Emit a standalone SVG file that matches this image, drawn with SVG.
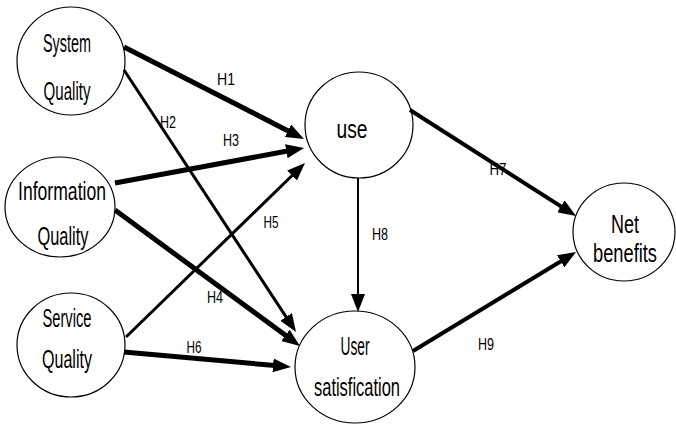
<svg xmlns="http://www.w3.org/2000/svg" width="676" height="425" viewBox="0 0 676 425">
<style>
.node ellipse{fill:#fff;stroke:#000;stroke-width:1.2}
.nt{font-family:"Liberation Sans",Arial,sans-serif;font-size:26px;fill:#000;text-anchor:middle}
.lb{font-family:"Liberation Sans",Arial,sans-serif;font-size:17px;fill:#000;text-anchor:middle}
.c{fill:none;stroke:#000;stroke-linecap:butt}
</style>
<defs>
<marker id="ah" markerUnits="userSpaceOnUse" markerWidth="18" markerHeight="14" refX="8" refY="7" orient="auto">
<path d="M0,0 L18,7 L0,14 z" fill="#000"/>
</marker>
</defs>
<rect width="676" height="425" fill="#fff"/>
<g id="nodes">
<g id="system-quality" class="node">
<ellipse cx="71" cy="61" rx="54" ry="54"/>
<text class="nt" x="67" y="52" textLength="48" lengthAdjust="spacingAndGlyphs">System</text>
<text class="nt" x="67" y="100" textLength="47" lengthAdjust="spacingAndGlyphs">Quality</text>
</g>
<g id="information-quality" class="node">
<ellipse cx="60" cy="207" rx="55" ry="50"/>
<text class="nt" x="62" y="200" textLength="88" lengthAdjust="spacingAndGlyphs">Information</text>
<text class="nt" x="63" y="245" textLength="51" lengthAdjust="spacingAndGlyphs">Quality</text>
</g>
<g id="service-quality" class="node">
<ellipse cx="71" cy="345" rx="54" ry="52"/>
<text class="nt" x="67" y="327" textLength="49" lengthAdjust="spacingAndGlyphs">Service</text>
<text class="nt" x="67" y="368" textLength="50" lengthAdjust="spacingAndGlyphs">Quality</text>
</g>
<g id="use" class="node">
<ellipse cx="359" cy="125" rx="54" ry="53"/>
<text class="nt" x="352" y="138" font-size="29" textLength="31" lengthAdjust="spacingAndGlyphs">use</text>
</g>
<g id="user-satisfication" class="node">
<ellipse cx="355" cy="367" rx="60" ry="56"/>
<text class="nt" x="355" y="355" textLength="29" lengthAdjust="spacingAndGlyphs">User</text>
<text class="nt" x="357" y="396" textLength="86" lengthAdjust="spacingAndGlyphs">satisfication</text>
</g>
<g id="net-benefits" class="node">
<ellipse cx="624" cy="232" rx="51" ry="49"/>
<text class="nt" x="625" y="233" textLength="28" lengthAdjust="spacingAndGlyphs">Net</text>
<text class="nt" x="625" y="262" textLength="64" lengthAdjust="spacingAndGlyphs">benefits</text>
</g>
</g>
<g id="connectors">
<line id="h1" class="c" x1="124" y1="47" x2="295.1" y2="134.4" stroke-width="5" marker-end="url(#ah)"/>
<line id="h3" class="c" x1="115" y1="183" x2="294.2" y2="149.8" stroke-width="5" marker-end="url(#ah)"/>
<line id="h5" class="c" x1="126" y1="337" x2="297.8" y2="170" stroke-width="3" marker-end="url(#ah)"/>
<line id="h2" class="c" x1="124" y1="70" x2="290.5" y2="323.6" stroke-width="3" marker-end="url(#ah)"/>
<line id="h4" class="c" x1="115" y1="210" x2="291.9" y2="340.1" stroke-width="5" marker-end="url(#ah)"/>
<line id="h6" class="c" x1="124" y1="352" x2="281" y2="366.1" stroke-width="5" marker-end="url(#ah)"/>
<line id="h7" class="c" x1="410" y1="110" x2="567.6" y2="210.6" stroke-width="4" marker-end="url(#ah)"/>
<line id="h8" class="c" x1="358" y1="178" x2="358" y2="302" stroke-width="2" marker-end="url(#ah)"/>
<line id="h9" class="c" x1="413" y1="351" x2="567.5" y2="257.2" stroke-width="4" marker-end="url(#ah)"/>
</g>
<g id="labels">
<text class="lb" x="226" y="85" textLength="18" lengthAdjust="spacingAndGlyphs">H1</text>
<text class="lb" x="168" y="128" textLength="16" lengthAdjust="spacingAndGlyphs">H2</text>
<text class="lb" x="231" y="146" textLength="16" lengthAdjust="spacingAndGlyphs">H3</text>
<text class="lb" x="271" y="228" textLength="15" lengthAdjust="spacingAndGlyphs">H5</text>
<text class="lb" x="215" y="303" textLength="16" lengthAdjust="spacingAndGlyphs">H4</text>
<text class="lb" x="194" y="353" textLength="15" lengthAdjust="spacingAndGlyphs">H6</text>
<text class="lb" x="498" y="175" textLength="17" lengthAdjust="spacingAndGlyphs">H7</text>
<text class="lb" x="380" y="240" textLength="16" lengthAdjust="spacingAndGlyphs">H8</text>
<text class="lb" x="486" y="350" textLength="16" lengthAdjust="spacingAndGlyphs">H9</text>
</g>
</svg>
